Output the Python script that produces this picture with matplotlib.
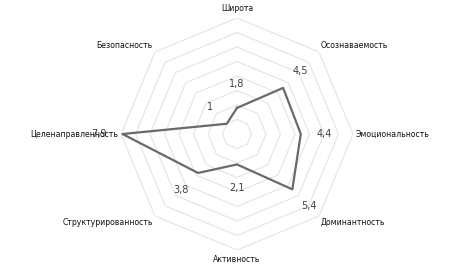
import numpy as np
import matplotlib
matplotlib.use('Agg')
import matplotlib.pyplot as plt

categories = ['Широта', 'Осознаваемость', 'Эмоциональность', 'Доминантность',
              'Активность', 'Структурированность', 'Целенаправленность', 'Безопасность']
values = [1.8, 4.5, 4.4, 5.4, 2.1, 3.8, 7.9, 1.0]
value_labels = ['1,8', '4,5', '4,4', '5,4', '2,1', '3,8', '7,9', '1']
rmax = 8

fig = plt.figure(figsize=(4.73, 2.66), dpi=100)
ax = fig.add_axes([0.2558, 0.0602, 0.4905, 0.872], projection='polar')
ax.set_theta_zero_location('N')
ax.set_theta_direction(-1)

n = len(categories)
theta = np.linspace(0, 2 * np.pi, n, endpoint=False)
theta_closed = np.append(theta, theta[0])

# octagon grid, no spokes
for r in range(1, rmax + 1):
    ax.plot(theta_closed, [r] * (n + 1), color='#e4e4e4', lw=0.8, zorder=1)

vals = np.append(values, values[0])
ax.plot(theta_closed, vals, color='#6a6a6a', lw=1.6, zorder=3)

for t, v, lab in zip(theta, values, value_labels):
    ax.text(t, v + 1.65, lab, ha='center', va='center', fontsize=7, color='#404040')

for t, cat in zip(theta, categories):
    deg = np.degrees(t)
    if deg == 0:
        ha, va, r = 'center', 'bottom', rmax + 0.35
    elif deg == 180:
        ha, va, r = 'center', 'top', rmax + 0.35
    elif deg < 180:
        ha, r = 'left', rmax + 0.2
        va = 'bottom' if deg < 90 else ('center' if deg == 90 else 'top')
    else:
        ha, r = 'right', rmax + 0.2
        va = 'bottom' if deg > 270 else ('center' if deg == 270 else 'top')
    ax.text(t, r, cat, ha=ha, va=va, fontsize=5.6, color='#111111')

ax.set_ylim(0, rmax)
ax.grid(False)
ax.set_xticks([])
ax.set_yticks([])
ax.spines['polar'].set_visible(False)
ax.patch.set_alpha(0)

fig.savefig('out.png', dpi=100)
